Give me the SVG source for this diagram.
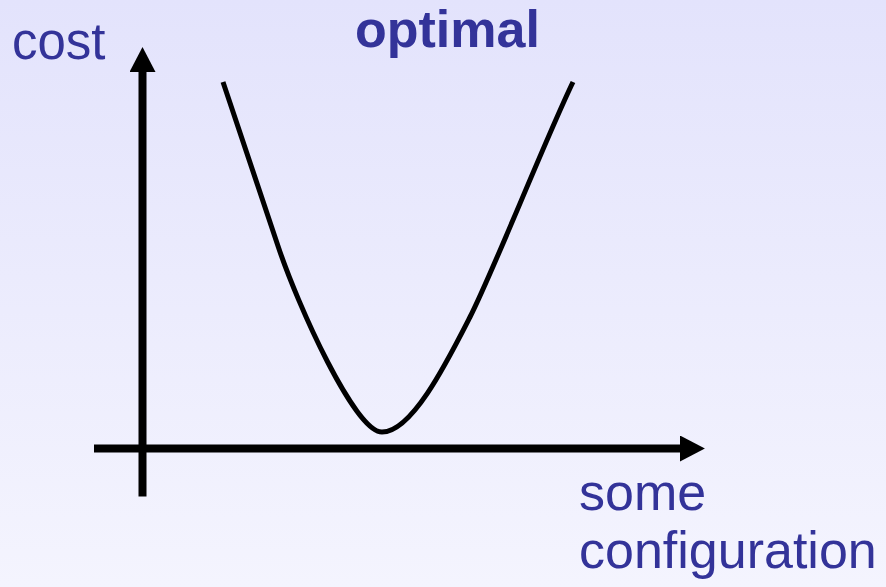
<svg xmlns="http://www.w3.org/2000/svg" width="886" height="587" viewBox="0 0 886 587">
<defs>
<linearGradient id="bg" x1="0" y1="0" x2="0" y2="1">
<stop offset="0" stop-color="#E3E3FC"/>
<stop offset="1" stop-color="#F4F4FE"/>
</linearGradient>
<marker id="arr" markerUnits="userSpaceOnUse" markerWidth="26" markerHeight="26" viewBox="0 0 24 24" refX="0" refY="12" orient="auto">
<path d="M0,0 L23,12 L0,24 Z" fill="#000"/>
</marker>
<style>
.lbl{font-family:"Liberation Sans",Arial,sans-serif;fill:#333399;font-size:52px}
.axis{stroke:#000;stroke-width:8;fill:none}
.curve{stroke:#000;stroke-width:5;fill:none}
</style>
</defs>
<rect width="886" height="587" fill="url(#bg)"/>
<g id="axes">
<line class="axis" x1="142.5" y1="496.5" x2="142.5" y2="72" marker-end="url(#arr)"/>
<line class="axis" x1="94" y1="448.5" x2="680" y2="448.5" marker-end="url(#arr)"/>
</g>
<g id="curve">
<path class="curve" d="M223,82 L278,246 C298,306 355,432 382,432 C412,432 447,362 470,317 C493,272 545,140 573,82"/>
</g>
<g id="labels">
<text id="cost" class="lbl" x="12" y="59" style="font-size:51px">cost</text>
<text id="optimal" class="lbl" x="355" y="47" font-weight="bold">optimal</text>
<text id="config" class="lbl" x="579" y="510">some<tspan x="579" y="568">configuration</tspan></text>
</g>
</svg>
